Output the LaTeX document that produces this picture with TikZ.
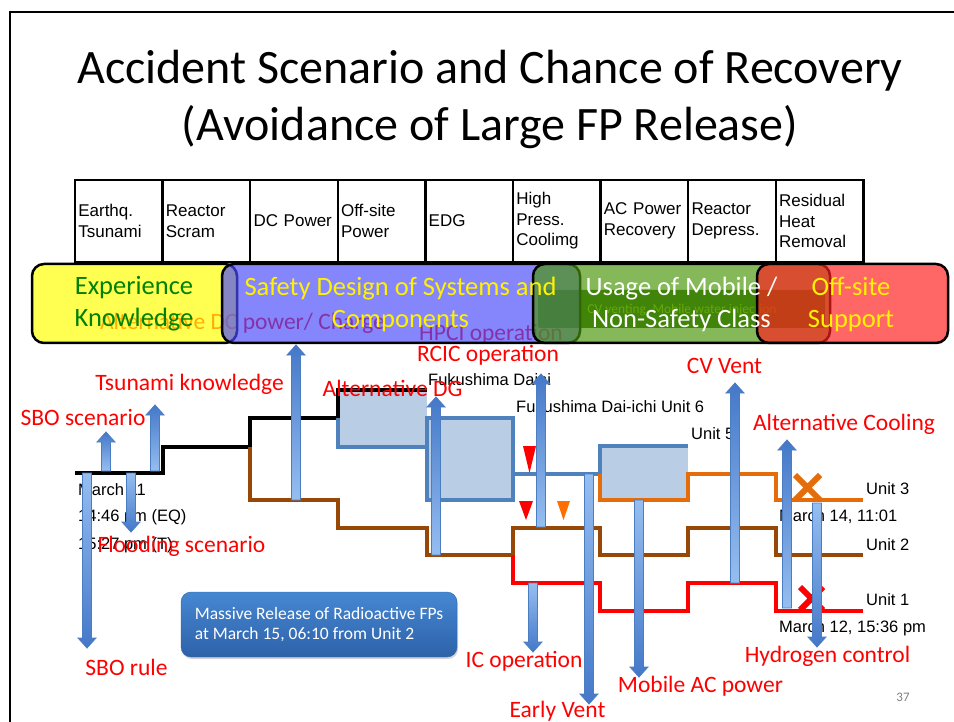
\documentclass[tikz,border=0pt]{standalone}
\usepackage{fontspec}
\setmainfont{Carlito}
\newfontfamily\arialfont{Liberation Sans}
\usetikzlibrary{shadows}
\definecolor{slideblue}{RGB}{79,129,189}
\definecolor{boxfill}{RGB}{185,205,229}
\definecolor{unitorange}{RGB}{228,108,10}
\definecolor{unitbrown}{RGB}{151,72,6}
\definecolor{triorange}{RGB}{255,110,0}
\definecolor{bandyellow}{RGB}{255,255,0}
\definecolor{bandblue}{RGB}{75,75,250}
\definecolor{bandgreen}{RGB}{75,150,10}
\definecolor{bandred}{RGB}{255,30,30}
\definecolor{darkolive}{RGB}{45,95,10}
\definecolor{cvgreen}{RGB}{160,210,0}
\definecolor{expgreen}{RGB}{0,130,0}
\definecolor{arrlight}{RGB}{150,190,240}
\definecolor{arrdark}{RGB}{68,120,200}
\definecolor{arredge}{RGB}{75,125,195}
\definecolor{relboxtop}{RGB}{70,135,210}
\definecolor{relboxbot}{RGB}{45,98,168}

% block arrow: name, x, tail y, tip y, style
\newcommand{\blockarr}[5]{%
  \coordinate (#1-tail) at (#2,#3);
  \coordinate (#1-tip) at (#2,#4);
  \pgfmathsetmacro{\headbase}{#4+10*sign(#3-#4)}
  \draw[#5] (#2-4.5,#3) -- (#2-4.5,\headbase) -- (#2-9,\headbase) -- (#1-tip)
    -- (#2+9,\headbase) -- (#2+4.5,\headbase) -- (#2+4.5,#3) -- cycle;
}

\begin{document}
\begin{tikzpicture}[x=1pt, y=-1pt,
  hdrcell/.style={draw, line width=2.5pt, minimum width=87.6pt, minimum height=82pt,
    text width=81pt, align=left, inner xsep=3.3pt, font=\arialfont\fontsize{17}{20.5}\selectfont},
  sysband/.style={draw, line width=2.5pt, rounded corners=12pt, fill opacity=0.68, minimum height=79pt},
  bandtext/.style={font=\fontsize{26.5}{32}\selectfont, align=center, inner sep=0pt},
  redlabel/.style={text=red, font=\fontsize{23.5}{28}\selectfont, inner sep=0pt},
  unitlabel/.style={font=\arialfont\fontsize{16.5}{19}\selectfont, anchor=west, inner sep=0pt},
  unitline/.style={line width=4pt},
  uparr/.style={draw=arredge, line width=0.8pt, top color=arrdark, bottom color=arrlight},
  downarr/.style={draw=arredge, line width=0.8pt, top color=arrlight, bottom color=arrdark},
  relbox/.style={rounded corners=10pt, top color=relboxtop, bottom color=relboxbot,
    draw=relboxbot, minimum width=276pt, minimum height=65pt, text=white, align=left,
    font=\fontsize{17.5}{20}\selectfont,
    drop shadow={opacity=0.35, shadow xshift=1pt, shadow yshift=-2pt}}]
\useasboundingbox (0,0) rectangle (954,722);

% Slide frame
\draw[line width=2pt] (10,722) -- (10,12) -- (954,12);

% Title
\node[font=\fontsize{48}{57}\selectfont, anchor=base] (title1) at (490,84) {Accident Scenario and Chance of Recovery};
\node[font=\fontsize{48}{57}\selectfont, anchor=base] (title2) at (490,141) {(Avoidance of Large FP Release)};

% Header of event tree
\foreach \lbl [count=\i from 0] in {{Earthq.\\Tsunami}, {Reactor\\Scram}, {DC Power}, {Off-site\\Power}, EDG,
    {High\\Press.\\Coolimg}, {AC Power\\Recovery}, {Reactor\\Depress.}, {Residual\\Heat\\Removal}}
  \node[hdrcell] (hdr\i) at (118.8+87.6*\i,221) {\lbl};

% Texts lying under the bands
\node[redlabel] (altdc) at (242.5,323) {Alternative DC power/ Charge};
\node[redlabel] (hpci) at (491,334) {HPCI operation};
\node[fill=darkolive, minimum width=287pt, minimum height=38pt, rounded corners=2pt] (cvbox) at (681.5,309) {};
\node[text=cvgreen, font=\fontsize{13.5}{15}\selectfont, inner sep=0pt] (cvtxt) at (682,310) {CV venting, Mobile water injection};

% Bands
\node[sysband, fill=bandyellow, minimum width=205pt] (expband) at (134.5,303.5) {};
\node[sysband, fill=bandblue, minimum width=358pt] (safeband) at (401,303.5) {};
\node[sysband, fill=bandgreen, minimum width=297pt] (mobband) at (681.5,303.5) {};
\node[sysband, fill=bandred, minimum width=191pt] (offband) at (852.5,303.5) {};

\node[bandtext, text=expgreen] (exptxt) at (134,304) {Experience\\Knowledge};
\node[bandtext, text=yellow] (safetxt) at (400.5,304) {Safety Design of Systems and\\Components};
\node[bandtext, text=white] (mobtxt) at (681.5,304) {Usage of Mobile /\\Non-Safety Class};
\node[bandtext, text=yellow] (offtxt) at (851,304.5) {Off-site\\Support};

% Recovery windows
\fill[boxfill] (338,390) rectangle (427,447);
\fill[boxfill] (427,418) rectangle (513,500);
\fill[boxfill] (600,446) rectangle (688,500);

% Plant state lines
\draw[unitline, black] (75,473) -| (163,447) -| (250,418) -| (338,390) -- (427,390);
\draw[unitline, slideblue] (338,418) |- (427,447);
\draw[unitline, slideblue] (427,418) rectangle (513,500);
\draw[unitline, slideblue] (513,474) -| (600,446) -- (688,446);
\draw[unitline, unitbrown] (250,447) |- (338,500) |- (427,528) |- (513,555) |- (600,528)
  |- (688,555) |- (776,528) |- (863,555);
\draw[unitline, red] (513,555) |- (600,583) |- (688,611) |- (776,583) |- (863,611);
\draw[unitline, unitorange] (600,474) |- (688,500) |- (776,474) |- (863,500);

% Failure marks
\draw[unitorange, line width=6pt] (795,475) -- (820,500) (795,500) -- (820,475);
\draw[red, line width=6pt] (800,587) -- (823,610) (800,610) -- (823,587);
\fill[red] (523,446) -- (536,446) -- (529.5,473) -- cycle;
\fill[red] (519,501) -- (533,501) -- (526,520) -- cycle;
\fill[triorange] (557,501) -- (570,501) -- (563.5,520) -- cycle;

% Plant labels
\node[unitlabel] (daini) at (428,380) {Fukushima Daini};
\node[unitlabel] (unit6) at (516,407) {Fukushima Dai-ichi Unit 6};
\node[unitlabel] (unit5) at (691,434) {Unit 5};
\node[unitlabel] (unit3) at (866,489) {Unit 3};
\node[unitlabel] (unit2) at (866,545) {Unit 2};
\node[unitlabel] (unit1) at (866,600) {Unit 1};
\node[unitlabel] (mar14) at (779,517) {March 14, 11:01};
\node[unitlabel] (mar12) at (779,628) {March 12, 15:36 pm};
\node[unitlabel] (mar11) at (78,490) {March 11};
\node[unitlabel] (eqtime) at (78,517) {14:46 pm (EQ)};
\node[unitlabel] (ttime) at (78,545) {15:27 pm (T)};

% Chances of recovery
\blockarr{sbo}{106}{471}{432}{uparr}
\blockarr{tsun}{155}{471}{405}{uparr}
\blockarr{sborule}{87}{473}{648}{downarr}
\blockarr{flood}{131}{473}{532}{downarr}
\blockarr{dcp}{296}{500}{345}{uparr}
\blockarr{altdg}{436}{555}{397}{uparr}
\blockarr{rcic}{541}{527}{374}{uparr}
\blockarr{early}{589}{474}{704}{downarr}
\blockarr{ic}{533}{583}{652}{downarr}
\blockarr{mac}{639}{500}{677}{downarr}
\blockarr{cvv}{735}{583}{383}{uparr}
\blockarr{altc}{787}{608}{440}{uparr}
\blockarr{hyd}{817}{503}{647}{downarr}

\node[redlabel] (sbosc) at (83,418) {SBO scenario};
\node[redlabel] (tsunk) at (189.5,384) {Tsunami knowledge};
\node[redlabel] (floodsc) at (181.5,546) {Flooding scenario};
\node[redlabel] (sborl) at (126.5,667) {SBO rule};
\node[redlabel] (altdgl) at (392.5,388) {Alternative DG};
\node[redlabel] (rcicl) at (488,355) {RCIC operation};
\node[redlabel] (cvventl) at (724.5,366) {CV Vent};
\node[redlabel] (altcl) at (844,424) {Alternative Cooling};
\node[redlabel] (icl) at (524,661) {IC operation};
\node[redlabel] (earlyl) at (557.5,711) {Early Vent};
\node[redlabel] (macl) at (700.5,686) {Mobile AC power};
\node[redlabel] (hydl) at (827.5,656) {Hydrogen control};

% Release box
\node[relbox] (release) at (319,624.5) {Massive Release of Radioactive FPs\\at March 15, 06:10 from Unit 2};

\node[text=gray, font=\fontsize{13}{15}\selectfont] (pgno) at (903,697) {37};
\end{tikzpicture}
\end{document}
